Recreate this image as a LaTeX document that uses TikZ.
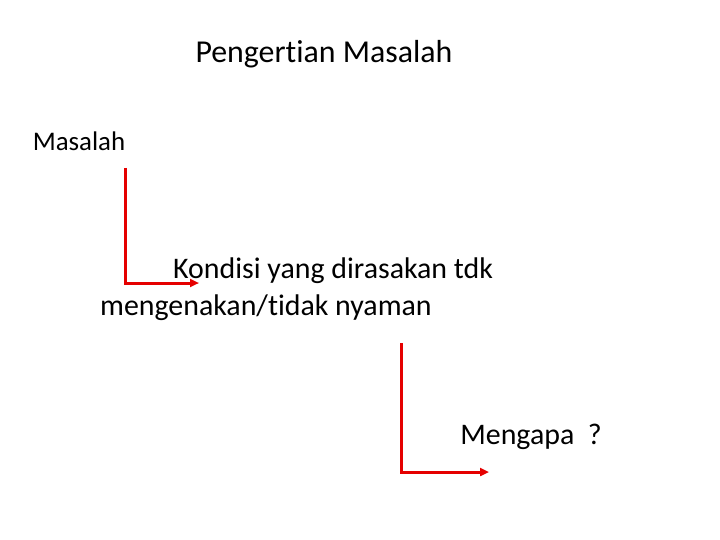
\documentclass[tikz,border=0pt]{standalone}
\usepackage{fontspec}
\setmainfont[Ligatures=NoCommon]{Carlito}
\usetikzlibrary{positioning}
\usetikzlibrary{arrows.meta}

\begin{document}
\begin{tikzpicture}[x=1bp, y=-1bp,
			txt/.style={inner sep=0pt, font=\fontsize{30}{37}\selectfont},
			redarrow/.style={draw=red!90!black, line width=3bp, -{Triangle[length=9bp,width=8bp]}}]
			\useasboundingbox (0,0) rectangle (720,540);
			\node[txt, font=\fontsize{32}{38}\selectfont](title) at (324,54){Pengertian Masalah};
			\node[txt, font=\fontsize{27}{32}\selectfont](masalah) at (79,141){Masalah};
			\node[txt, anchor=west, align=left](kondisi) at (100,289){\hspace*{73bp}Kondisi yang dirasakan tdk\\mengenakan/tidak nyaman};
			\node[txt](mengapa) at (531,437){Mengapa\ \ ?};
			\coordinate (start1) at (125,168);
			\coordinate (end1) at (199,283);
			\coordinate (start2) at (401,343);
			\coordinate (end2) at (489,472);
			\path[redarrow] (start1) |- (end1);
			\path[redarrow] (start2) |- (end2);
	\end{tikzpicture}
\end{document}
